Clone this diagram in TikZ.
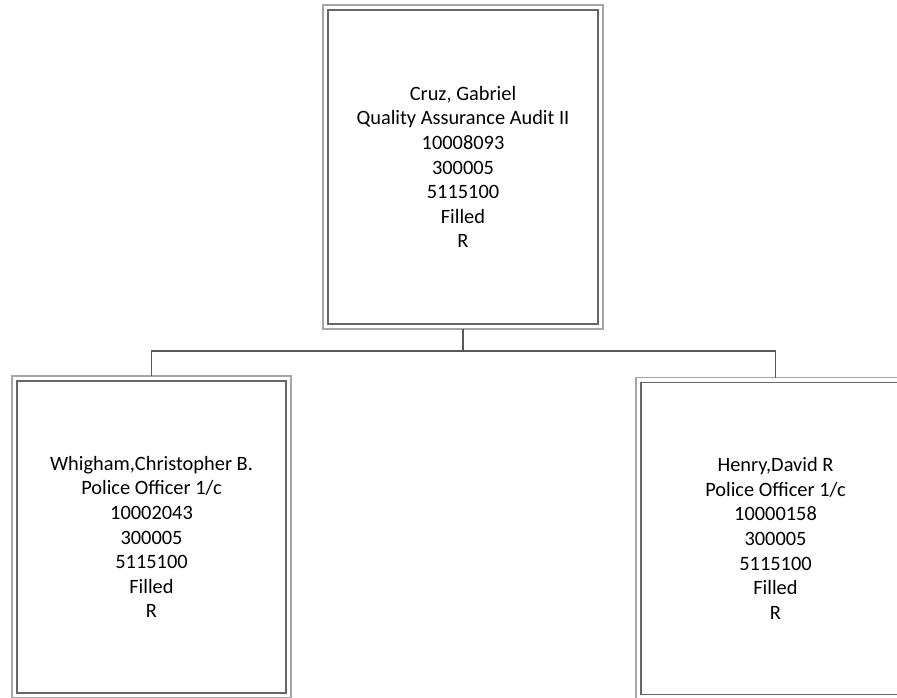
\documentclass[tikz,border=0pt]{standalone}
\usepackage{fontspec}
\setmainfont{Carlito}
\usepackage{xcolor}
\usepackage{tikz}
\usetikzlibrary{positioning,calc}

\tikzset{
  post/.style={draw=black!60, line width=0.6pt, outer sep=0.1cm,
    minimum width=5.38cm, minimum height=6.24cm, align=center, text=black,
    font=\fontsize{11.6}{14}\selectfont},
  frame/.style={draw=gray!70, line width=0.6pt},
  wire/.style={draw=black!65, line width=0.85pt}
}

\begin{document}
\begin{tikzpicture}
  \useasboundingbox (0,0) rectangle (17.94,-13.96);
  \clip (0,0) rectangle (17.94,-13.96);
  % positions
  \node[post, minimum width=5.40cm, minimum height=6.28cm] (cruz) at (9.26,-3.34)
    {Cruz, Gabriel\\Quality Assurance Audit II\\10008093\\300005\\5115100\\Filled\\R};
  \node[post] (whigham) at (3.03,-10.74)
    {Whigham,Christopher B.\\Police Officer 1/c\\10002043\\300005\\5115100\\Filled\\R};
  \node[post] (henry) at (15.51,-10.77)
    {Henry,David R\\Police Officer 1/c\\10000158\\300005\\5115100\\Filled\\R};
  % outer frames
  \foreach \n in {cruz,whigham,henry}
    \draw[frame] (\n.south west) rectangle (\n.north east);
  % connectors
  \coordinate (bus) at ($(cruz.south)+(0,-0.44)$);
  \draw[wire] (cruz.south) -- (bus);
  \draw[wire] (bus) -| (whigham.north);
  \draw[wire] (bus) -| (henry.north);
\end{tikzpicture}
\end{document}
